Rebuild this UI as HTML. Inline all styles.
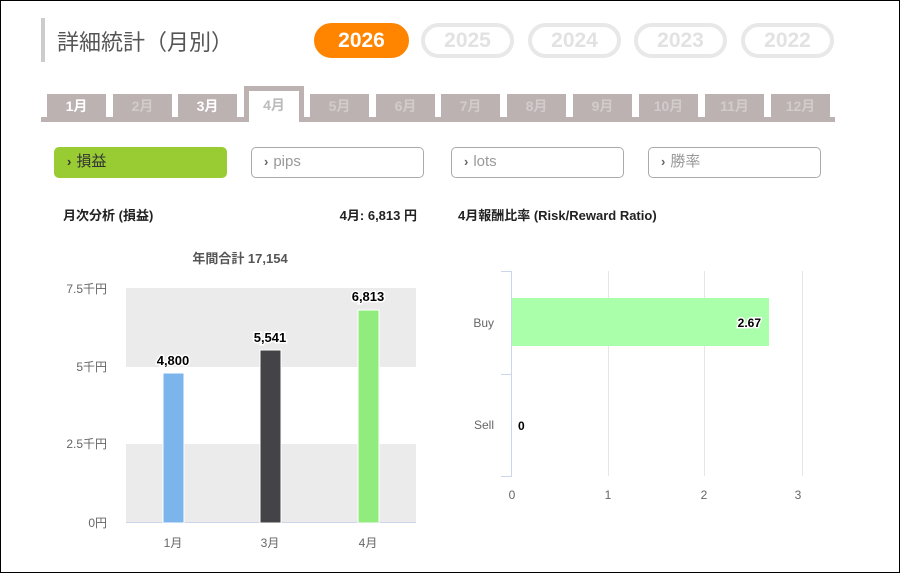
<!DOCTYPE html>
<html><head><meta charset="utf-8"><style>
*{margin:0;padding:0;box-sizing:border-box}
body{width:900px;height:573px;background:#fff;font-family:"Liberation Sans","Noto Sans CJK JP",sans-serif;position:relative;overflow:hidden;border:1px solid #000}
.a{position:absolute}
.pill{position:absolute;top:22px;height:35px;border:4px solid #e8e8e8;border-radius:18px;color:#e2e2e2;font-weight:bold;font-size:21px;text-align:center;line-height:27px}
.tab{position:absolute;top:93px;width:59px;height:24px;background:#bcb2b2;color:#d2cbcb;font-weight:bold;font-size:14px;text-align:center;line-height:24px}
.btn{position:absolute;top:146px;height:31px;width:173px;border:1.5px solid #aaa;border-radius:5px;font-size:15px;color:#999;line-height:28px;padding-left:12px}
.btn b{font-size:13px;color:#666;margin-right:5px}
.h{position:absolute;font-weight:bold;font-size:13px;color:#222}
</style></head><body>
<div class="a" style="left:40px;top:17px;width:4px;height:44px;background:#ccc"></div>
<div class="a" style="left:56px;top:24px;font-size:22px;color:#555">詳細統計（月別）</div>
<div class="pill" style="left:313px;width:95px;background:#ff8400;border-color:#ff8400;color:#fff">2026</div>
<div class="pill" style="left:420px;width:93px">2025</div>
<div class="pill" style="left:527px;width:93px">2024</div>
<div class="pill" style="left:633px;width:93px">2023</div>
<div class="pill" style="left:740px;width:93px">2022</div>
<div class="a" style="left:40px;top:116px;width:794px;height:5px;background:#bcb2b2"></div>
<div class="tab" style="left:46px;color:#fff">1月</div>
<div class="tab" style="left:112px">2月</div>
<div class="tab" style="left:177px;color:#fff">3月</div>
<div class="a" style="left:243px;top:85px;width:60px;height:36px;background:#bcb2b2"></div>
<div class="a" style="left:248px;top:90px;width:50px;height:31px;background:#fff;color:#bbb;font-weight:bold;font-size:14px;text-align:center;line-height:28px">4月</div>
<div class="tab" style="left:309px">5月</div>
<div class="tab" style="left:375px">6月</div>
<div class="tab" style="left:440px">7月</div>
<div class="tab" style="left:506px">8月</div>
<div class="tab" style="left:572px">9月</div>
<div class="tab" style="left:638px">10月</div>
<div class="tab" style="left:704px">11月</div>
<div class="tab" style="left:770px">12月</div>
<div class="btn" style="left:53px;background:#99cc33;border-color:#99cc33;color:#333"><b style="color:#333">›</b>損益</div>
<div class="btn" style="left:250px"><b>›</b>pips</div>
<div class="btn" style="left:450px"><b>›</b>lots</div>
<div class="btn" style="left:647px"><b>›</b>勝率</div>
<div class="h" style="left:62px;top:204px">月次分析 (損益)</div>
<div class="h" style="left:300px;top:204px;width:116px;text-align:right">4月:  6,813 円</div>
<div class="h" style="left:457px;top:204px">4月報酬比率 (Risk/Reward Ratio)</div>
<svg class="a" style="left:0;top:0" width="900" height="573" font-family="Liberation Sans, Noto Sans CJK JP, sans-serif">
<text x="239" y="262" font-size="13" font-weight="bold" fill="#555" text-anchor="middle">年間合計 17,154</text>
<rect x="125" y="287" width="290" height="79" fill="#ebebeb"/>
<rect x="125" y="443" width="290" height="78" fill="#ebebeb"/>
<line x1="125" y1="521.5" x2="415" y2="521.5" stroke="#ccd6eb"/>
<g font-size="12" fill="#666" text-anchor="end">
<text x="106" y="292">7.5千円</text><text x="106" y="370">5千円</text><text x="106" y="447">2.5千円</text><text x="106" y="526">0円</text>
</g>
<rect x="162" y="372" width="21" height="150" fill="#7cb5ec" stroke="#fff"/>
<rect x="259" y="349" width="21" height="173" fill="#434348" stroke="#fff"/>
<rect x="357" y="309" width="21" height="213" fill="#90ed7d" stroke="#fff"/>
<g font-size="13" font-weight="bold" fill="#000" text-anchor="middle" stroke="#fff" stroke-width="3" paint-order="stroke">
<text x="172" y="364">4,800</text><text x="269" y="341">5,541</text><text x="367" y="300">6,813</text>
</g>
<g font-size="12" fill="#666" text-anchor="middle">
<text x="172" y="546">1月</text><text x="269" y="546">3月</text><text x="367" y="546">4月</text>
</g>
<g stroke="#e6e6e6"><line x1="607.5" y1="270" x2="607.5" y2="475"/><line x1="703.5" y1="270" x2="703.5" y2="475"/><line x1="801.5" y1="270" x2="801.5" y2="475"/></g>
<rect x="511" y="297" width="257" height="48" fill="#aaffaa"/>
<path d="M500 270.5H510.5V475.5H500M500 373.5H510" fill="none" stroke="#ccd6eb"/>
<g font-size="12" fill="#666"><text x="493" y="326" text-anchor="end">Buy</text><text x="493" y="428" text-anchor="end">Sell</text></g>
<g font-size="12" fill="#666" text-anchor="middle"><text x="511" y="498">0</text><text x="607" y="498">1</text><text x="703" y="498">2</text><text x="797" y="498">3</text></g>
<g font-size="12" font-weight="bold" fill="#000" stroke="#fff" stroke-width="3" paint-order="stroke"><text x="760" y="326" text-anchor="end">2.67</text><text x="517" y="429">0</text></g>
</svg>
</body></html>
